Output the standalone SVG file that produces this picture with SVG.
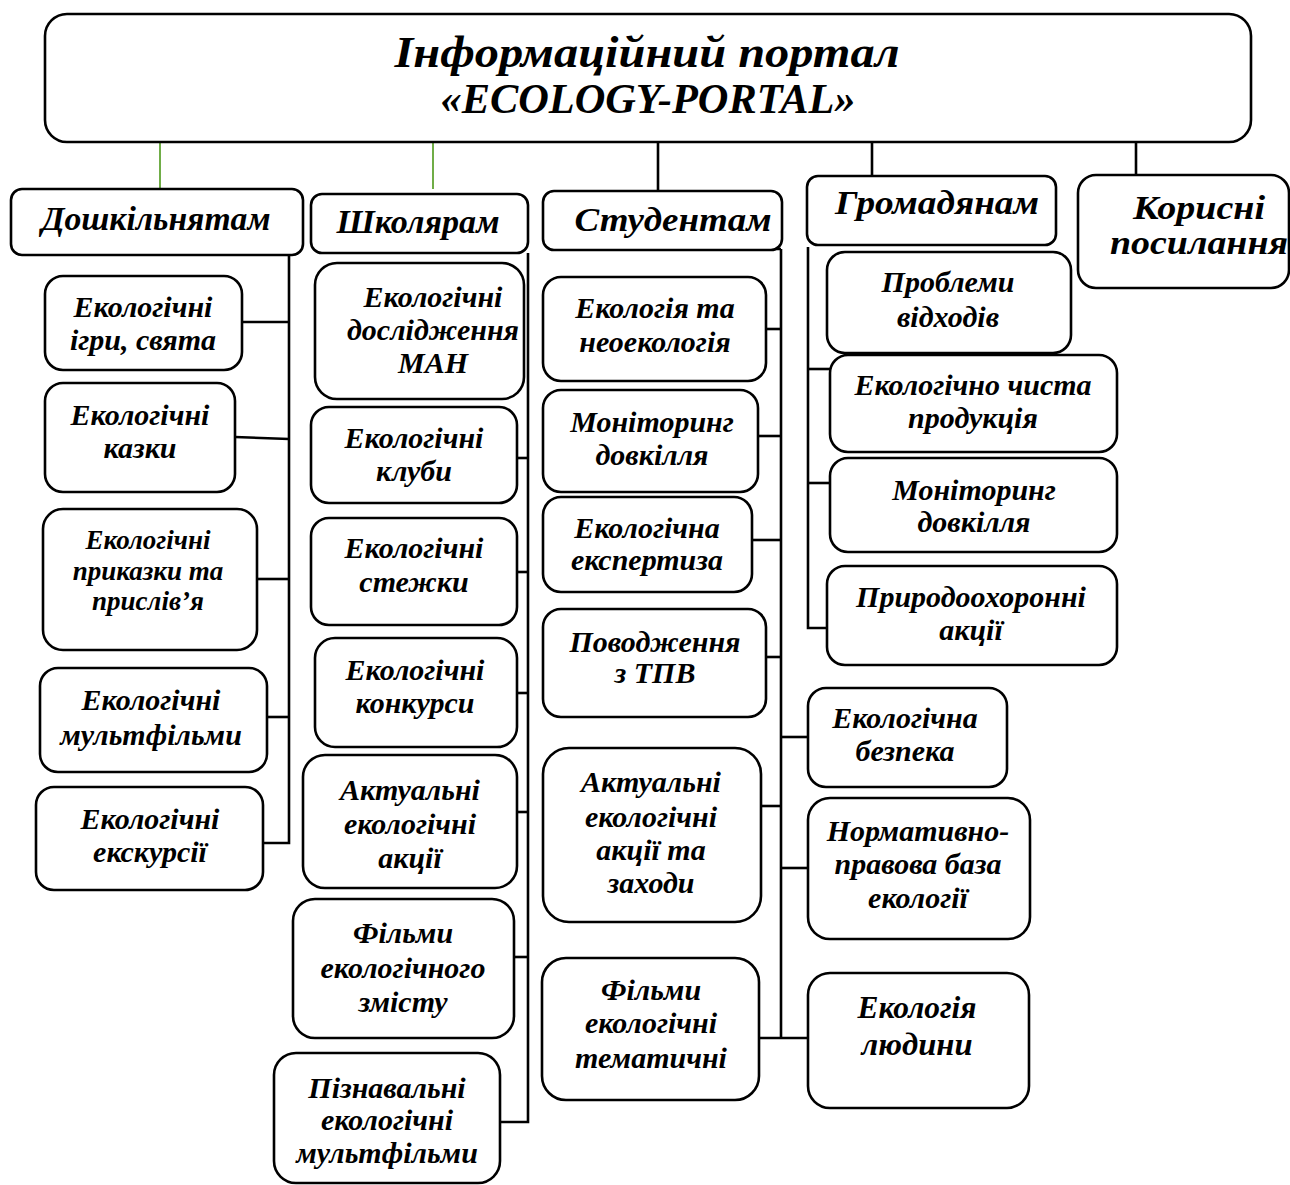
<svg xmlns="http://www.w3.org/2000/svg" width="1290" height="1185" viewBox="0 0 1290 1185">
<style>
.box{fill:#fff;stroke:#000;stroke-width:2.6}
.t{font-family:"Liberation Serif","Times New Roman",serif;font-weight:bold;font-style:italic;font-size:30px;text-anchor:middle;fill:#000}
.cat{font-size:34px}
.c{stroke:#000;stroke-width:2.6;fill:none}
.g{stroke:#70ad47;stroke-width:2;fill:none}
</style>
<rect width="1290" height="1185" fill="#fff"/>
<g id="connectors">
<line class="g" x1="160" y1="142" x2="160" y2="189"/>
<line class="g" x1="433" y1="142" x2="433" y2="189"/>
<line class="c" x1="658" y1="142" x2="658" y2="191"/>
<line class="c" x1="872" y1="142" x2="872" y2="176"/>
<line class="c" x1="1136" y1="142" x2="1136" y2="175"/>
<polyline class="c" points="289,255 289,843 263,843"/>
<line class="c" x1="242" y1="322" x2="289" y2="322"/>
<line class="c" x1="235" y1="437" x2="289" y2="439"/>
<line class="c" x1="257" y1="579" x2="289" y2="579"/>
<line class="c" x1="263" y1="717" x2="289" y2="717"/>
<polyline class="c" points="528,253 528,1122 500,1122"/>
<line class="c" x1="517" y1="458" x2="528" y2="458"/>
<line class="c" x1="517" y1="572" x2="528" y2="572"/>
<line class="c" x1="517" y1="693" x2="528" y2="693"/>
<line class="c" x1="515" y1="812" x2="528" y2="812"/>
<line class="c" x1="512" y1="957" x2="528" y2="957"/>
<line class="c" x1="707" y1="249" x2="781" y2="249"/>
<line class="c" x1="781" y1="249" x2="781" y2="1038"/>
<line class="c" x1="766" y1="329" x2="781" y2="329"/>
<line class="c" x1="758" y1="436" x2="781" y2="436"/>
<line class="c" x1="752" y1="540" x2="781" y2="540"/>
<line class="c" x1="766" y1="657" x2="781" y2="657"/>
<line class="c" x1="761" y1="806" x2="781" y2="806"/>
<line class="c" x1="759" y1="1038" x2="808" y2="1038"/>
<line class="c" x1="781" y1="737" x2="808" y2="737"/>
<line class="c" x1="781" y1="868" x2="808" y2="868"/>
<polyline class="c" points="808,247 808,628 827,628"/>
<line class="c" x1="808" y1="369" x2="830" y2="369"/>
<line class="c" x1="808" y1="483" x2="830" y2="483"/>
</g>
<g id="root">
<rect class="box" x="45" y="14" width="1206" height="128" rx="22"/>
<text class="t" x="647" y="67" style="font-size:44px" textLength="505" lengthAdjust="spacingAndGlyphs">Інформаційний портал</text>
<text class="t" x="648" y="113" style="font-size:43px" textLength="415" lengthAdjust="spacingAndGlyphs">«ECOLOGY-PORTAL»</text>
</g>
<g id="cat-preschool">
<rect class="box" x="11" y="189" width="292" height="66" rx="11"/>
<text class="t cat" x="156" y="230" textLength="229" lengthAdjust="spacingAndGlyphs">Дошкільнятам</text>
</g>
<g id="cat-school">
<rect class="box" x="311" y="194" width="217" height="59" rx="11"/>
<text class="t cat" x="418" y="233" textLength="163" lengthAdjust="spacingAndGlyphs">Школярам</text>
</g>
<g id="cat-students">
<rect class="box" x="543" y="191" width="239" height="59" rx="11"/>
<text class="t cat" x="673" y="231" textLength="197" lengthAdjust="spacingAndGlyphs">Студентам</text>
</g>
<g id="cat-citizens">
<rect class="box" x="807" y="176" width="249" height="69" rx="11"/>
<text class="t cat" x="937" y="214" textLength="204" lengthAdjust="spacingAndGlyphs">Громадянам</text>
</g>
<g id="cat-links">
<rect class="box" x="1078" y="175" width="211" height="113" rx="18"/>
<text class="t cat" x="1199" y="219" textLength="132" lengthAdjust="spacingAndGlyphs">Корисні</text>
<text class="t cat" x="1199" y="254" textLength="178" lengthAdjust="spacingAndGlyphs">посилання</text>
</g>
<g id="p1"><rect class="box" x="45" y="276" width="197" height="94" rx="18"/>
<text class="t" x="143" y="317">Екологічні</text><text class="t" x="143" y="350">ігри, свята</text></g>
<g id="p2"><rect class="box" x="45" y="383" width="190" height="109" rx="18"/>
<text class="t" x="140" y="425">Екологічні</text><text class="t" x="140" y="458">казки</text></g>
<g id="p3"><rect class="box" x="43" y="509" width="214" height="141" rx="20"/>
<text class="t" x="148" y="549" style="font-size:27px">Екологічні</text><text class="t" x="148" y="580" style="font-size:27px">приказки та</text><text class="t" x="148" y="610" style="font-size:27px">прислів’я</text></g>
<g id="p4"><rect class="box" x="40" y="668" width="227" height="104" rx="18"/>
<text class="t" x="151" y="710">Екологічні</text><text class="t" x="151" y="745">мультфільми</text></g>
<g id="p5"><rect class="box" x="36" y="787" width="227" height="103" rx="18"/>
<text class="t" x="150" y="829">Екологічні</text><text class="t" x="150" y="862">екскурсії</text></g>
<g id="s1"><rect class="box" x="315" y="263" width="209" height="136" rx="22"/>
<text class="t" x="433" y="307">Екологічні</text><text class="t" x="433" y="340">дослідження</text><text class="t" x="433" y="373">МАН</text></g>
<g id="s2"><rect class="box" x="311" y="407" width="206" height="96" rx="18"/>
<text class="t" x="414" y="448">Екологічні</text><text class="t" x="414" y="481">клуби</text></g>
<g id="s3"><rect class="box" x="311" y="518" width="206" height="107" rx="18"/>
<text class="t" x="414" y="558">Екологічні</text><text class="t" x="414" y="592">стежки</text></g>
<g id="s4"><rect class="box" x="315" y="638" width="202" height="109" rx="20"/>
<text class="t" x="415" y="680">Екологічні</text><text class="t" x="415" y="713">конкурси</text></g>
<g id="s5"><rect class="box" x="303" y="755" width="214" height="133" rx="22"/>
<text class="t" x="410" y="800">Актуальні</text><text class="t" x="410" y="834">екологічні</text><text class="t" x="410" y="868">акції</text></g>
<g id="s6"><rect class="box" x="293" y="899" width="221" height="139" rx="22"/>
<text class="t" x="403" y="943">Фільми</text><text class="t" x="403" y="978">екологічного</text><text class="t" x="403" y="1012">змісту</text></g>
<g id="s7"><rect class="box" x="274" y="1053" width="226" height="130" rx="22"/>
<text class="t" x="387" y="1098">Пізнавальні</text><text class="t" x="387" y="1130">екологічні</text><text class="t" x="387" y="1163">мультфільми</text></g>
<g id="u1"><rect class="box" x="543" y="277" width="223" height="104" rx="18"/>
<text class="t" x="655" y="318">Екологія та</text><text class="t" x="655" y="352">неоекологія</text></g>
<g id="u2"><rect class="box" x="543" y="390" width="215" height="102" rx="18"/>
<text class="t" x="652" y="432">Моніторинг</text><text class="t" x="652" y="465">довкілля</text></g>
<g id="u3"><rect class="box" x="543" y="497" width="209" height="95" rx="18"/>
<text class="t" x="647" y="538">Екологічна</text><text class="t" x="647" y="570">експертиза</text></g>
<g id="u4"><rect class="box" x="543" y="609" width="223" height="108" rx="18"/>
<text class="t" x="655" y="652">Поводження</text><text class="t" x="655" y="683">з ТПВ</text></g>
<g id="u5"><rect class="box" x="543" y="748" width="218" height="174" rx="26"/>
<text class="t" x="651" y="792">Актуальні</text><text class="t" x="651" y="827">екологічні</text><text class="t" x="651" y="860">акції та</text><text class="t" x="651" y="893">заходи</text></g>
<g id="u6"><rect class="box" x="542" y="958" width="217" height="142" rx="24"/>
<text class="t" x="651" y="1000">Фільми</text><text class="t" x="651" y="1033">екологічні</text><text class="t" x="651" y="1068">тематичні</text></g>
<g id="c1"><rect class="box" x="827" y="252" width="244" height="101" rx="18"/>
<text class="t" x="948" y="292">Проблеми</text><text class="t" x="948" y="327">відходів</text></g>
<g id="c2"><rect class="box" x="830" y="355" width="287" height="97" rx="18"/>
<text class="t" x="973" y="395">Екологічно чиста</text><text class="t" x="973" y="428">продукція</text></g>
<g id="c3"><rect class="box" x="830" y="458" width="287" height="94" rx="18"/>
<text class="t" x="974" y="500">Моніторинг</text><text class="t" x="974" y="532">довкілля</text></g>
<g id="c4"><rect class="box" x="827" y="566" width="290" height="99" rx="18"/>
<text class="t" x="971" y="607">Природоохоронні</text><text class="t" x="971" y="640">акції</text></g>
<g id="u7"><rect class="box" x="808" y="688" width="199" height="99" rx="18"/>
<text class="t" x="905" y="728">Екологічна</text><text class="t" x="905" y="761">безпека</text></g>
<g id="u8"><rect class="box" x="808" y="798" width="222" height="141" rx="22"/>
<text class="t" x="918" y="841">Нормативно-</text><text class="t" x="918" y="874">правова база</text><text class="t" x="918" y="908">екології</text></g>
<g id="u9"><rect class="box" x="808" y="973" width="221" height="135" rx="22"/>
<text class="t" x="917" y="1018" style="font-size:32px" textLength="119" lengthAdjust="spacingAndGlyphs">Екологія</text><text class="t" x="917" y="1055" style="font-size:32px" textLength="111" lengthAdjust="spacingAndGlyphs">людини</text></g>
</svg>
